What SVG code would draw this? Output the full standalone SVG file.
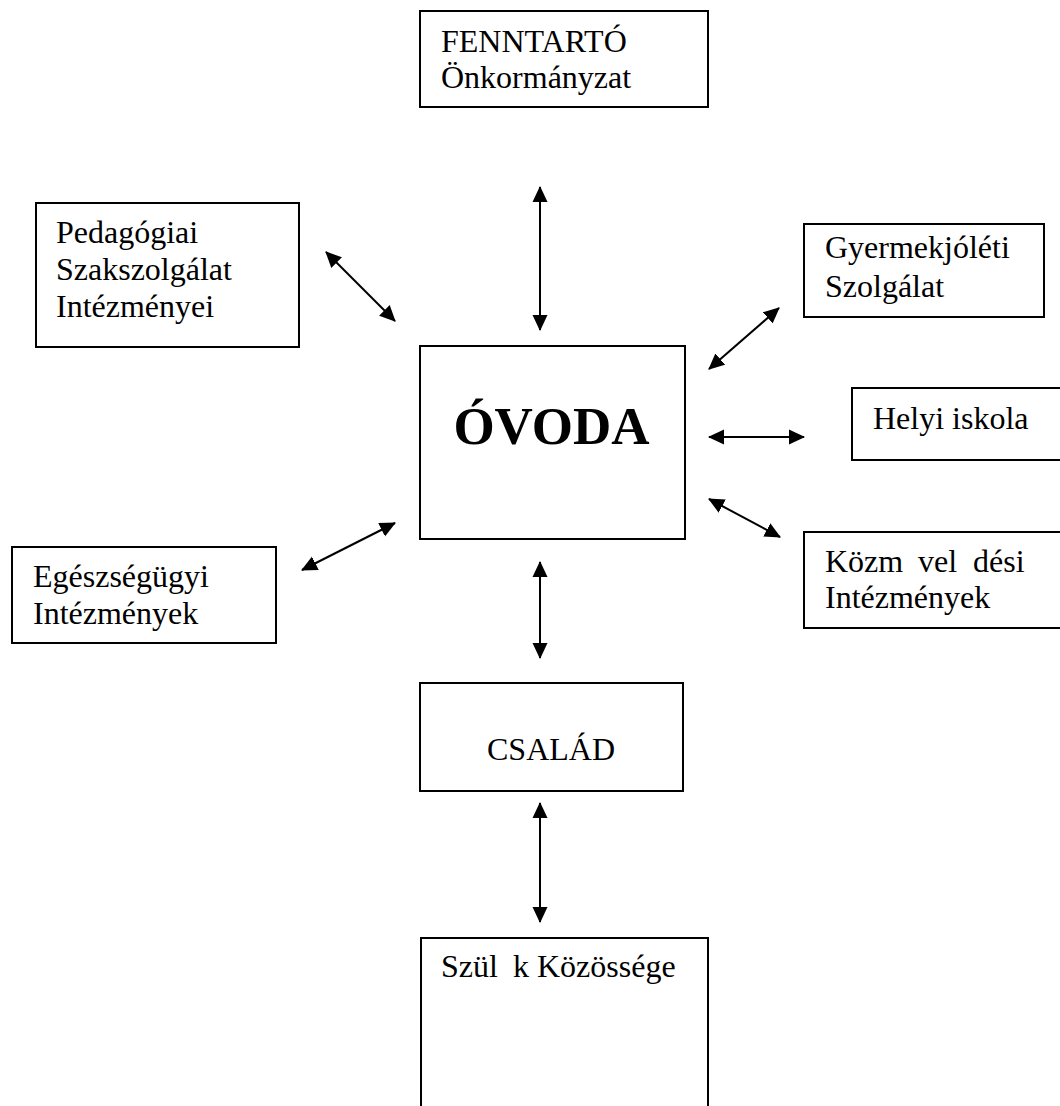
<svg xmlns="http://www.w3.org/2000/svg" width="1060" height="1106" viewBox="0 0 1060 1106">
<style>
.box{fill:#fff;stroke:#000;stroke-width:2}
.t{font-family:"Liberation Serif","Times New Roman",serif;font-size:32px;fill:#000}
.b{font-family:"Liberation Serif","Times New Roman",serif;font-size:53px;font-weight:bold;fill:#000}
.c line{stroke:#000;stroke-width:2;marker-start:url(#ah);marker-end:url(#ah)}
</style>
<defs>
<marker id="ah" markerUnits="userSpaceOnUse" markerWidth="16" markerHeight="16" refX="15" refY="8" orient="auto-start-reverse">
<path d="M0,0.5 L16,8 L0,15.5 z" fill="#000"/>
</marker>
</defs>
<rect width="1060" height="1106" fill="#fff"/>
<g id="fenntarto"><rect class="box" x="420" y="11" width="288" height="96"/>
<text class="t" x="441" y="52">FENNTARTÓ</text><text class="t" x="441" y="88">Önkormányzat</text></g>
<g id="pedagogiai"><rect class="box" x="36" y="203" width="263" height="144"/>
<text class="t" x="56" y="243">Pedagógiai</text><text class="t" x="56" y="280">Szakszolgálat</text><text class="t" x="56" y="317">Intézményei</text></g>
<g id="gyermekjoleti"><rect class="box" x="804" y="224" width="240" height="93"/>
<text class="t" x="825" y="258">Gyermekjóléti</text><text class="t" x="825" y="297">Szolgálat</text></g>
<g id="ovoda"><rect class="box" x="420" y="346" width="265" height="193"/>
<text class="b" x="551.5" y="444" text-anchor="middle">ÓVODA</text></g>
<g id="helyi"><rect class="box" x="852" y="388" width="212" height="72"/>
<text class="t" x="873" y="429">Helyi iskola</text></g>
<g id="kozmuvelodesi"><rect class="box" x="804" y="532" width="260" height="96"/>
<text class="t" y="572"><tspan x="825">Közm</tspan> <tspan x="918">vel</tspan> <tspan x="973">dési</tspan></text><text class="t" x="825" y="608">Intézmények</text></g>
<g id="egeszsegugyi"><rect class="box" x="12" y="547" width="264" height="96"/>
<text class="t" x="33" y="587">Egészségügyi</text><text class="t" x="33" y="624">Intézmények</text></g>
<g id="csalad"><rect class="box" x="420" y="683" width="263" height="108"/>
<text class="t" x="487" y="760">CSALÁD</text></g>
<g id="szulok"><path class="box" d="M421,1110 V938 H708 V1110" fill="none"/>
<text class="t" y="977"><tspan x="441">Szül</tspan> <tspan x="513">k Közössége</tspan></text></g>
<g id="connectors" class="c">
<line x1="540" y1="187" x2="540" y2="330"/>
<line x1="326" y1="252" x2="395" y2="321"/>
<line x1="779" y1="308" x2="709" y2="369"/>
<line x1="709" y1="437" x2="804" y2="437"/>
<line x1="709" y1="499" x2="780" y2="537"/>
<line x1="395" y1="523" x2="302" y2="570"/>
<line x1="540" y1="562" x2="540" y2="658"/>
<line x1="540" y1="803" x2="540" y2="922"/>
</g>
</svg>
